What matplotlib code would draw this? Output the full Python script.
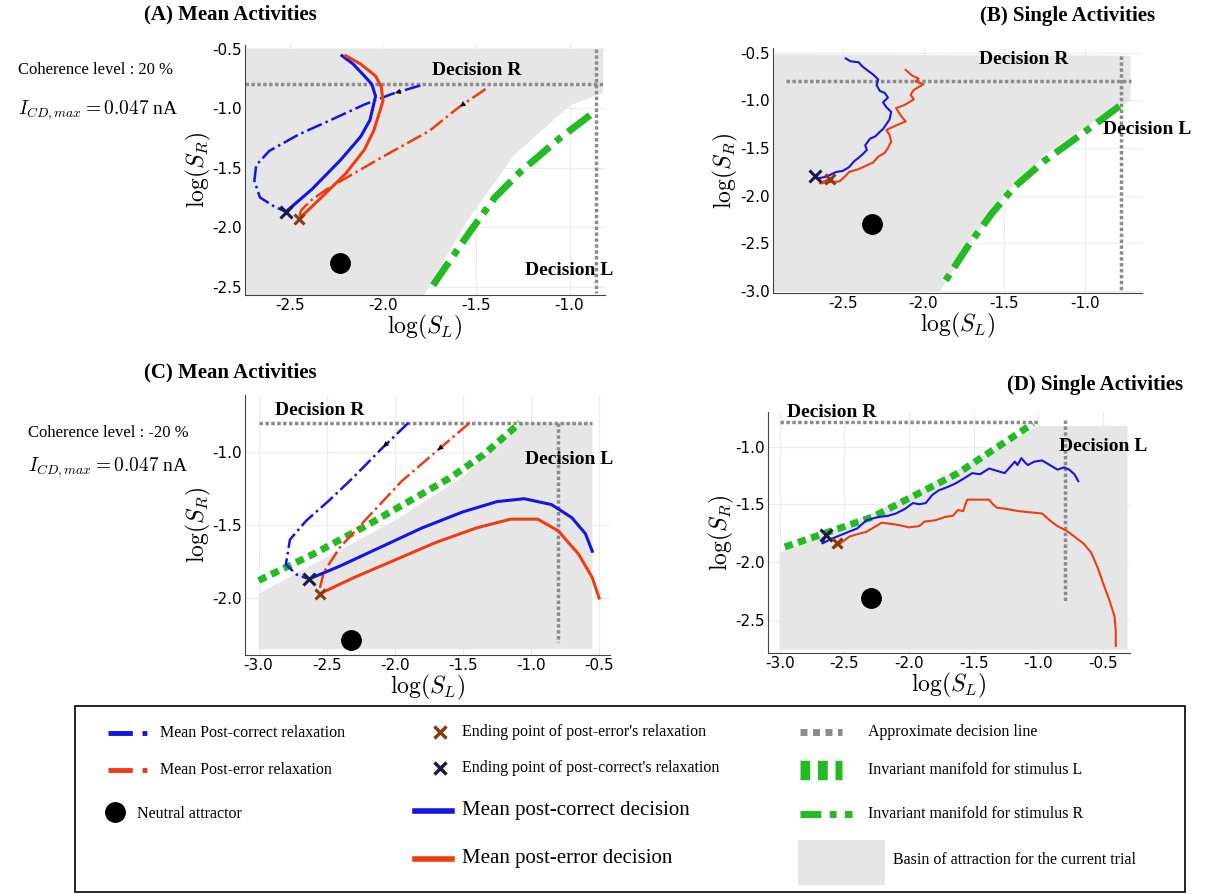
import matplotlib
matplotlib.use("Agg")
import matplotlib.pyplot as plt
from matplotlib.patches import Polygon, Rectangle

plt.rcParams['font.family'] = ['Liberation Serif', 'DejaVu Serif']
plt.rcParams['mathtext.fontset'] = 'cm'

BLUE = '#1414e6'; RED = '#f03c10'; GREEN = '#22bb22'; GRAY = '#8c8c8c'
BROWN = '#8b3a0f'; NAVY = '#1a1a4a'; BASIN = '#e6e6e6'

# ---------------- data ----------------
A_basin = [(-2.74,-0.5),(-0.82,-0.5),(-0.82,-0.87),(-1.0,-0.98),(-1.3,-1.4),(-1.55,-1.95),(-1.78,-2.57),(-2.74,-2.57)]
A_manR_x = [-0.89,-1.05,-1.26,-1.4,-1.53,-1.65,-1.75]
A_manR_y = [-1.06,-1.25,-1.53,-1.75,-2.03,-2.3,-2.53]
A_corr_x = [-2.52,-2.38,-2.23,-2.12,-2.07,-2.04,-2.06,-2.1,-2.16,-2.22]
A_corr_y = [-1.87,-1.68,-1.44,-1.24,-1.1,-0.9,-0.8,-0.73,-0.63,-0.56]
A_err_x = [-2.45,-2.33,-2.2,-2.1,-2.05,-2.0,-2.01,-2.04,-2.12,-2.2]
A_err_y = [-1.93,-1.75,-1.55,-1.35,-1.19,-0.94,-0.82,-0.73,-0.63,-0.56]
A_rc_x = [-1.8,-1.95,-2.1,-2.28,-2.45,-2.61,-2.68,-2.69,-2.66,-2.58,-2.52]
A_rc_y = [-0.81,-0.88,-0.97,-1.1,-1.22,-1.36,-1.48,-1.61,-1.75,-1.83,-1.87]
A_re_x = [-1.45,-1.6,-1.75,-1.98,-2.18,-2.3,-2.39,-2.44,-2.45]
A_re_y = [-0.84,-1.0,-1.19,-1.39,-1.57,-1.68,-1.78,-1.86,-1.93]
A_att = (-2.23, -2.3)

B_basin = [(-2.93,-0.52),(-0.72,-0.53),(-0.72,-1.0),(-1.0,-1.28),(-1.25,-1.57),(-1.47,-1.95),(-1.68,-2.42),(-1.9,-3.0),(-2.93,-3.0)]
B_manR_x = [-0.79,-1.02,-1.25,-1.44,-1.58,-1.73,-1.89]
B_manR_y = [-1.06,-1.35,-1.63,-1.91,-2.19,-2.54,-2.96]
B_corr_x = [-2.67,-2.66,-2.6,-2.54,-2.5,-2.46,-2.43,-2.4,-2.38,-2.35,-2.36,-2.33,-2.3,-2.27,-2.25,-2.23,-2.21,-2.2,-2.23,-2.25,-2.22,-2.24,-2.27,-2.29,-2.28,-2.31,-2.35,-2.38,-2.4,-2.45,-2.48]
B_corr_y = [-1.79,-1.82,-1.8,-1.75,-1.74,-1.7,-1.64,-1.6,-1.57,-1.52,-1.47,-1.4,-1.38,-1.33,-1.3,-1.25,-1.2,-1.12,-1.07,-1.02,-0.97,-0.92,-0.9,-0.84,-0.78,-0.73,-0.68,-0.64,-0.6,-0.59,-0.56]
B_err_x = [-2.58,-2.64,-2.6,-2.52,-2.48,-2.46,-2.4,-2.35,-2.31,-2.28,-2.24,-2.22,-2.2,-2.21,-2.23,-2.18,-2.11,-2.14,-2.17,-2.12,-2.06,-2.08,-2.06,-2.03,-2.0,-2.05,-2.03,-2.07,-2.09,-2.11]
B_err_y = [-1.82,-1.87,-1.86,-1.85,-1.79,-1.75,-1.72,-1.68,-1.65,-1.59,-1.55,-1.5,-1.43,-1.36,-1.31,-1.27,-1.22,-1.16,-1.08,-1.05,-0.99,-0.94,-0.89,-0.86,-0.83,-0.8,-0.77,-0.74,-0.71,-0.68]
B_att = (-2.32, -2.3)

C_basin = [(-3.0,-2.35),(-3.0,-1.97),(-2.5,-1.72),(-2.0,-1.47),(-1.5,-1.17),(-1.08,-0.8),(-0.55,-0.8),(-0.55,-2.35)]
C_manL_x = [-3.0,-2.6,-2.2,-1.9,-1.6,-1.35,-1.08]
C_manL_y = [-1.88,-1.7,-1.5,-1.34,-1.18,-1.02,-0.8]
C_corr_x = [-2.63,-2.4,-2.1,-1.8,-1.5,-1.25,-1.05,-0.85,-0.7,-0.6,-0.55]
C_corr_y = [-1.87,-1.78,-1.65,-1.52,-1.41,-1.34,-1.32,-1.36,-1.45,-1.56,-1.68]
C_err_x = [-2.55,-2.3,-2.0,-1.7,-1.4,-1.15,-0.95,-0.8,-0.65,-0.55,-0.5]
C_err_y = [-1.97,-1.86,-1.74,-1.62,-1.52,-1.46,-1.46,-1.54,-1.7,-1.86,-2.0]
C_rc_x = [-1.9,-2.1,-2.3,-2.48,-2.65,-2.77,-2.8,-2.72,-2.63]
C_rc_y = [-0.8,-0.98,-1.17,-1.33,-1.47,-1.6,-1.77,-1.84,-1.87]
C_re_x = [-1.45,-1.7,-1.95,-2.2,-2.4,-2.52,-2.55]
C_re_y = [-0.8,-1.0,-1.2,-1.45,-1.65,-1.82,-1.93]
C_att = (-2.32, -2.29)

D_basin = [(-3.0,-2.76),(-3.0,-1.92),(-2.28,-1.58),(-1.62,-1.2),(-1.0,-0.82),(-0.31,-0.82),(-0.31,-2.76)]
D_manL_x = [-2.96,-2.28,-1.62,-1.04]
D_manL_y = [-1.87,-1.61,-1.23,-0.80]
D_corr_x = [-2.64,-2.67,-2.6,-2.49,-2.4,-2.33,-2.27,-2.23,-2.16,-2.1,-2.03,-1.97,-1.92,-1.87,-1.82,-1.77,-1.7,-1.64,-1.58,-1.51,-1.45,-1.38,-1.32,-1.26,-1.22,-1.18,-1.16,-1.13,-1.1,-1.08,-1.03,-0.97,-0.91,-0.85,-0.8,-0.76,-0.72,-0.69]
D_corr_y = [-1.77,-1.84,-1.8,-1.75,-1.71,-1.64,-1.62,-1.61,-1.6,-1.58,-1.54,-1.49,-1.5,-1.49,-1.42,-1.38,-1.35,-1.32,-1.28,-1.23,-1.24,-1.19,-1.21,-1.23,-1.18,-1.13,-1.16,-1.1,-1.14,-1.16,-1.13,-1.12,-1.16,-1.2,-1.18,-1.2,-1.24,-1.3]
D_err_x = [-2.56,-2.58,-2.52,-2.46,-2.4,-2.33,-2.27,-2.21,-2.14,-2.08,-2.0,-1.92,-1.88,-1.8,-1.72,-1.66,-1.62,-1.58,-1.55,-1.47,-1.38,-1.35,-1.32,-1.25,-1.15,-1.06,-0.97,-0.9,-0.85,-0.78,-0.72,-0.65,-0.59,-0.54,-0.49,-0.45,-0.41,-0.4,-0.4]
D_err_y = [-1.84,-1.88,-1.83,-1.78,-1.76,-1.74,-1.7,-1.66,-1.67,-1.68,-1.7,-1.69,-1.65,-1.64,-1.61,-1.6,-1.55,-1.56,-1.46,-1.46,-1.46,-1.5,-1.53,-1.54,-1.56,-1.57,-1.58,-1.65,-1.69,-1.73,-1.78,-1.84,-1.92,-2.05,-2.21,-2.33,-2.47,-2.6,-2.73]
D_att = (-2.29, -2.31)

W, H = 1211, 894
fig = plt.figure(figsize=(W/100, H/100), dpi=100)

def axpix(l, r, t, b):
    return fig.add_axes([l/W, 1-b/H, (r-l)/W, (b-t)/H])

def style(ax, xlim, ylim, xt, yt):
    ax.set_xlim(*xlim); ax.set_ylim(*ylim)
    ax.set_xticks(xt); ax.set_yticks(yt)
    ax.set_xticklabels([f"{v:.1f}" for v in xt], fontsize=11, family='DejaVu Sans')
    ax.set_yticklabels([f"{v:.1f}" for v in yt], fontsize=11, family='DejaVu Sans')
    ax.grid(True, color='#ececec', lw=0.8)
    ax.set_axisbelow(True)
    for k, s in ax.spines.items():
        s.set_visible(k in ('left', 'bottom'))
        s.set_color('#444444'); s.set_linewidth(0.8)
    ax.tick_params(length=0, pad=2)
    ax.set_xlabel(r'$\log(S_L)$', fontsize=17, labelpad=0)
    ax.set_ylabel(r'$\log(S_R)$', fontsize=17, labelpad=0)

def common(ax, basin, hx, hy, vx, vy0, vy1):
    ax.add_patch(Polygon(basin, closed=True, fc=BASIN, ec='none', zorder=1))
    ax.plot(hx, [hy, hy], ls=(0, (1, 0.7)), color=GRAY, lw=2.5, zorder=2)
    ax.plot([vx, vx], [vy0, vy1], ls=(0, (1, 0.7)), color=GRAY, lw=2.5, zorder=2)

def marks(ax, cx, cy, ex, ey, att):
    ax.plot(*att, 'o', color='black', ms=14, zorder=6)
    ax.plot(cx, cy, 'x', color=NAVY, ms=8, mew=2.2, zorder=7)
    ax.plot(ex, ey, 'x', color=BROWN, ms=7, mew=2.2, zorder=7)

def arrow(ax, x, y):
    ax.annotate('', xy=(x[1], y[1]), xytext=(x[0], y[0]),
                arrowprops=dict(arrowstyle='-|>', color='black', lw=0, mutation_scale=10), zorder=8)

DASHDOT_R = (0, (4, 1.2, 1, 1.2))

# Panel A
ax = axpix(245, 605, 45, 295)
style(ax, (-2.74, -0.81), (-2.57, -0.47), [-2.5, -2.0, -1.5, -1.0], [-2.5, -2.0, -1.5, -1.0, -0.5])
common(ax, A_basin, [-2.74, -0.79], -0.8, -0.86, -0.5, -2.55)
ax.plot(A_manR_x, A_manR_y, color=GREEN, lw=5, ls=DASHDOT_R, zorder=3)
ax.plot(A_rc_x, A_rc_y, color=BLUE, lw=1.8, ls='-.', zorder=4)
ax.plot(A_re_x, A_re_y, color=RED, lw=1.8, ls='-.', zorder=4)
ax.plot(A_corr_x, A_corr_y, color=BLUE, lw=2.2, zorder=5)
ax.plot(A_err_x, A_err_y, color=RED, lw=2.2, zorder=5)
arrow(ax, A_rc_x[:2], A_rc_y[:2]); arrow(ax, A_re_x[:2], A_re_y[:2])
marks(ax, A_corr_x[0], A_corr_y[0], A_err_x[0], A_err_y[0], A_att)
ax.text(-1.5, -0.72, 'Decision R', fontsize=14, fontweight='bold', ha='center')
ax.text(-1.0, -2.4, 'Decision L', fontsize=14, fontweight='bold', ha='center')

# Panel B
ax = axpix(773, 1142, 48, 293)
style(ax, (-2.93, -0.65), (-3.02, -0.45), [-2.5, -2.0, -1.5, -1.0], [-3.0, -2.5, -2.0, -1.5, -1.0, -0.5])
common(ax, B_basin, [-2.85, -0.72], -0.8, -0.78, -0.53, -3.0)
ax.plot(B_manR_x, B_manR_y, color=GREEN, lw=5, ls=DASHDOT_R, zorder=3)
ax.plot(B_corr_x, B_corr_y, color=BLUE, lw=1.5, zorder=5)
ax.plot(B_err_x, B_err_y, color=RED, lw=1.5, zorder=5)
marks(ax, B_corr_x[0], B_corr_y[0], B_err_x[0], B_err_y[0], B_att)
ax.text(-1.38, -0.62, 'Decision R', fontsize=14, fontweight='bold', ha='center')
ax.text(-0.62, -1.35, 'Decision L', fontsize=14, fontweight='bold', ha='center')

# Panel C
ax = axpix(245, 610, 395, 655)
style(ax, (-3.1, -0.42), (-2.39, -0.61), [-3.0, -2.5, -2.0, -1.5, -1.0, -0.5], [-2.0, -1.5, -1.0])
common(ax, C_basin, [-3.0, -0.55], -0.8, -0.8, -0.8, -2.3)
ax.plot(C_manL_x, C_manL_y, color=GREEN, lw=5, ls=(0, (1.2, 0.8)), zorder=3)
ax.plot(C_rc_x, C_rc_y, color=BLUE, lw=1.8, ls='-.', zorder=4)
ax.plot(C_re_x, C_re_y, color=RED, lw=1.8, ls='-.', zorder=4)
ax.plot(C_corr_x, C_corr_y, color=BLUE, lw=2.2, zorder=5)
ax.plot(C_err_x, C_err_y, color=RED, lw=2.2, zorder=5)
arrow(ax, C_rc_x[:2], C_rc_y[:2]); arrow(ax, C_re_x[:2], C_re_y[:2])
marks(ax, C_corr_x[0], C_corr_y[0], C_err_x[0], C_err_y[0], C_att)
ax.text(-2.55, -0.75, 'Decision R', fontsize=14, fontweight='bold', ha='center')
ax.text(-0.72, -1.08, 'Decision L', fontsize=14, fontweight='bold', ha='center')

# Panel D
ax = axpix(768, 1130, 412, 653)
style(ax, (-3.09, -0.29), (-2.79, -0.70), [-3.0, -2.5, -2.0, -1.5, -1.0, -0.5], [-2.5, -2.0, -1.5, -1.0])
common(ax, D_basin, [-3.0, -1.0], -0.79, -0.79, -0.77, -2.36)
ax.plot(D_manL_x, D_manL_y, color=GREEN, lw=5, ls=(0, (1.2, 0.8)), zorder=3)
ax.plot(D_corr_x, D_corr_y, color=BLUE, lw=1.5, zorder=5)
ax.plot(D_err_x, D_err_y, color=RED, lw=1.5, zorder=5)
marks(ax, D_corr_x[0], D_corr_y[0], D_err_x[0], D_err_y[0], D_att)
ax.text(-2.6, -0.74, 'Decision R', fontsize=14, fontweight='bold', ha='center')
ax.text(-0.5, -1.04, 'Decision L', fontsize=14, fontweight='bold', ha='center')

# Titles / annotations
fig.text(230/W, 1-14/H, '(A) Mean Activities', fontsize=15, fontweight='bold', ha='center', va='center')
fig.text(1068/W, 1-16/H, '(B) Single Activities', fontsize=15, fontweight='bold', ha='center', va='center')
fig.text(230/W, 1-372/H, '(C) Mean Activities', fontsize=15, fontweight='bold', ha='center', va='center')
fig.text(1095/W, 1-385/H, '(D) Single Activities', fontsize=15, fontweight='bold', ha='center', va='center')
fig.text(18/W, 1-70/H, 'Coherence level : 20 %', fontsize=12, va='center')
fig.text(18/W, 1-110/H, r'$I_{CD,max} = 0.047$ nA', fontsize=14, va='center')
fig.text(28/W, 1-433/H, 'Coherence level : -20 %', fontsize=12, va='center')
fig.text(28/W, 1-467/H, r'$I_{CD,max} = 0.047$ nA', fontsize=14, va='center')

# Legend box
lg = fig.add_axes([0, 0, 1, 1], facecolor='none')
lg.set_xlim(0, W); lg.set_ylim(H, 0); lg.axis('off')
lg.add_patch(Rectangle((75, 706), 1110, 186, fc='none', ec='black', lw=1.2))
lg.plot([108, 150], [733, 733], color=BLUE, lw=3.5, ls=(0, (5, 2, 1, 2)))
lg.text(160, 733, 'Mean Post-correct relaxation', fontsize=11.5, va='center')
lg.plot([108, 150], [770, 770], color=RED, lw=3.5, ls=(0, (5, 2, 1, 2)))
lg.text(160, 770, 'Mean Post-error relaxation', fontsize=11.5, va='center')
lg.plot([115], [812], 'o', color='black', ms=14)
lg.text(137, 814, 'Neutral attractor', fontsize=11.5, va='center')
lg.plot([440], [732], 'x', color=BROWN, ms=9, mew=2.5)
lg.text(462, 732, "Ending point of post-error's relaxation", fontsize=11.5, va='center')
lg.plot([440], [768], 'x', color=NAVY, ms=9, mew=2.5)
lg.text(462, 768, "Ending point of post-correct's relaxation", fontsize=11.5, va='center')
lg.plot([415, 452], [811, 811], color=BLUE, lw=4)
lg.text(462, 811, 'Mean post-correct decision', fontsize=15, va='center')
lg.plot([415, 452], [859, 859], color=RED, lw=4)
lg.text(462, 859, 'Mean post-error decision', fontsize=15, va='center')
lg.plot([800, 842], [732, 732], color=GRAY, lw=5, ls=(0, (1, 0.8)))
lg.text(868, 732, 'Approximate decision line', fontsize=11.5, va='center')
lg.plot([800, 842], [770, 770], color=GREEN, lw=14, ls=(0, (0.5, 0.4)))
lg.text(868, 770, 'Invariant manifold for stimulus L', fontsize=11.5, va='center')
lg.plot([800, 852], [814, 814], color=GREEN, lw=5, ls=(0, (3, 1.2, 1, 1.2)))
lg.text(868, 814, 'Invariant manifold for stimulus R', fontsize=11.5, va='center')
lg.add_patch(Rectangle((798, 840), 87, 45, fc=BASIN, ec='none'))
lg.text(893, 860, 'Basin of attraction for the current trial', fontsize=11.5, va='center')

fig.savefig('out.png', dpi=100)
